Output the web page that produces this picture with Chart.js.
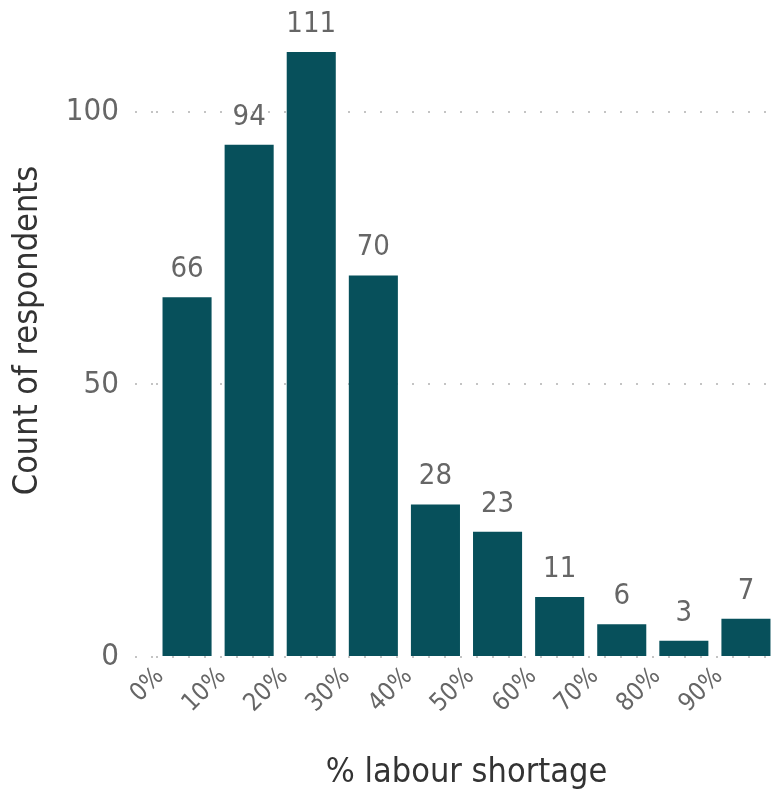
<!DOCTYPE html>
<html>
<head>
<meta charset="utf-8">
<script src="https://cdn.jsdelivr.net/npm/chart.js@4"></script>
<style>
  html, body { margin: 0; padding: 0; background: #fff; }
  #wrap { width: 782px; height: 796px; position: relative; }
</style>
</head>
<body>
<div id="wrap"><canvas id="chart"></canvas></div>
<script>
const categories = ["0%", "10%", "20%", "30%", "40%", "50%", "60%", "70%", "80%", "90%"];
const counts = [66, 94, 111, 70, 28, 23, 11, 6, 3, 7];
const yTicks = [0, 50, 100];
const yTitle = "Count of respondents";

const fontFamily = "'DejaVu Sans Condensed', 'DejaVu Sans', sans-serif";

// draws the value above each bar
const valueLabels = {
  id: "valueLabels",
  afterDatasetsDraw(chart) {
    const ctx = chart.ctx;
    const meta = chart.getDatasetMeta(0);
    ctx.save();
    ctx.font = "29px " + fontFamily;
    ctx.fillStyle = "#666666";
    ctx.textAlign = "center";
    ctx.textBaseline = "bottom";
    meta.data.forEach((bar, i) => {
      ctx.fillText(counts[i], bar.x, bar.y - 13);
    });
    ctx.restore();
  },
};

// y axis title sits a bit above the middle of the plot, so draw it by hand
const sideTitle = {
  id: "sideTitle",
  afterDraw(chart) {
    const ctx = chart.ctx;
    const area = chart.chartArea;
    ctx.save();
    ctx.translate(28, (area.top + area.bottom) / 2 - 24);
    ctx.rotate(-Math.PI / 2);
    ctx.font = "34px " + fontFamily;
    ctx.fillStyle = "#333333";
    ctx.textAlign = "center";
    ctx.textBaseline = "middle";
    ctx.fillText(yTitle, 0, 0);
    ctx.restore();
  },
};

new Chart(document.getElementById("chart"), {
  type: "bar",
  data: {
    labels: categories,
    datasets: [{
      data: counts,
      backgroundColor: "#07505B",
      categoryPercentage: 1,
      barPercentage: 0.79,
    }],
  },
  options: {
    responsive: true,
    maintainAspectRatio: false,
    animation: false,
    layout: { padding: { top: 52, right: 5, bottom: 0, left: 0 } },
    plugins: { legend: { display: false }, tooltip: { enabled: false } },
    scales: {
      x: {
        grid: { display: false },
        border: { display: false },
        ticks: {
          color: "#666666",
          font: { family: fontFamily, size: 25 },
          minRotation: 45,
          maxRotation: 45,
          labelOffset: -27,
          padding: -3,
        },
        title: {
          display: true,
          text: "% labour shortage",
          color: "#333333",
          font: { family: fontFamily, size: 34 },
          padding: { top: 4, bottom: 2 },
        },
        afterFit(scale) { scale.height = 139; },
      },
      y: {
        min: 0,
        max: 111,
        border: { display: false, dash: [2, 14] },
        grid: {
          color: "#c4c4c4",
          lineWidth: 2,
          tickLength: 21,
          tickColor: "#c4c4c4",
          tickBorderDash: [2, 14],
        },
        ticks: {
          stepSize: 50,
          includeBounds: false,
          color: "#666666",
          font: { family: fontFamily, size: 31 },
          padding: 16,
          callback: (v) => (yTicks.includes(v) ? v : null),
        },
        afterFit(scale) { scale.width = 156; },
      },
    },
  },
  plugins: [valueLabels, sideTitle],
});
</script>
</body>
</html>
